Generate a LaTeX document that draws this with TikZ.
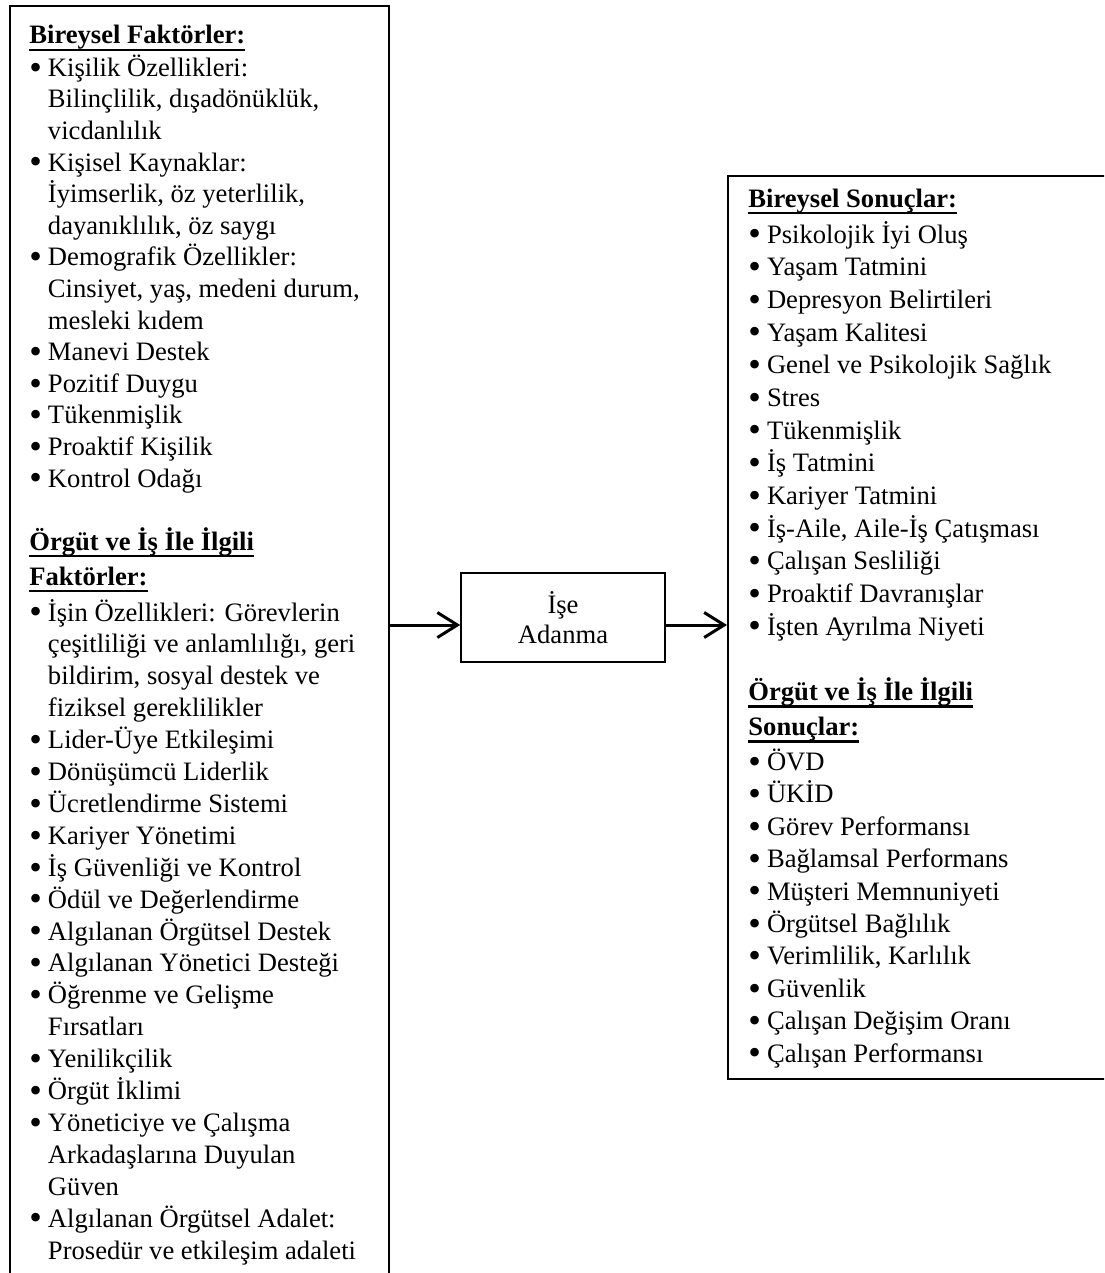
\documentclass[tikz,border=0pt]{standalone}
\usepackage{fontspec}
\setmainfont{Liberation Serif}
\usetikzlibrary{arrows.meta,positioning}

\newcommand\bul{\makebox[9.3pt][l]{\smash{\raisebox{-1.4pt}{\scalebox{1.35}{\textbullet}}}}}
\newcommand\contind{\hspace*{9.3pt}}
\newcommand\headul[1]{\setbox0=\hbox{\bfseries #1}\rlap{\rule[-3.6pt]{\wd0}{1.2pt}}\box0}

\begin{document}
\begin{tikzpicture}[
    x=0.5pt,y=-0.5pt,
    frame/.style={draw, line width=0.8pt, anchor=north west, inner sep=0pt},
    block/.style={draw, line width=0.8pt, align=center, inner sep=0pt,
                  minimum width=102pt, minimum height=44.5pt,
                  font=\fontsize{13.3}{15}\selectfont},
    listtext/.style={anchor=base west, inner sep=0pt, align=left,
                     font=\fontsize{13.3}{#1}\selectfont},
    arrow/.style={-{Straight Barb[length=10pt,width=12.5pt]}, line width=1.5pt}
]
\clip (0,0) rectangle (1104,1273);

\node[frame, minimum width=189.5pt, minimum height=660pt] (leftbox) at (9,5) {};
\node[frame, minimum width=200pt, minimum height=451.5pt] (rightbox) at (727,175) {};
\node[block] (center) at (563,617.5) {İşe\\Adanma};

% base anchor sits on the last line of each list
\node[listtext=15.8pt] (leftA) at (29,487) {\headul{Bireysel Faktörler:}\\[0.4pt]
\bul Kişilik Özellikleri:\\
\contind Bilinçlilik, dışadönüklük,\\
\contind vicdanlılık\\
\bul Kişisel Kaynaklar:\\
\contind İyimserlik, öz yeterlilik,\\
\contind dayanıklılık, öz saygı\\
\bul Demografik Özellikler:\\
\contind Cinsiyet, yaş, medeni durum,\\
\contind mesleki kıdem\\
\bul Manevi Destek\\
\bul Pozitif Duygu\\
\bul Tükenmişlik\\
\bul Proaktif Kişilik\\
\bul Kontrol Odağı};

\node[listtext=15.95pt] (leftB) at (29,1259) {\headul{Örgüt ve İş İle İlgili}\\[1.55pt]
\headul{Faktörler:}\\[2.05pt]
\bul İşin Özellikleri: Görevlerin\\
\contind çeşitliliği ve anlamlılığı, geri\\
\contind bildirim, sosyal destek ve\\
\contind fiziksel gereklilikler\\
\bul Lider-Üye Etkileşimi\\
\bul Dönüşümcü Liderlik\\
\bul Ücretlendirme Sistemi\\
\bul Kariyer Yönetimi\\
\bul İş Güvenliği ve Kontrol\\
\bul Ödül ve Değerlendirme\\
\bul Algılanan Örgütsel Destek\\
\bul Algılanan Yönetici Desteği\\
\bul Öğrenme ve Gelişme\\
\contind Fırsatları\\
\bul Yenilikçilik\\
\bul Örgüt İklimi\\
\bul Yöneticiye ve Çalışma\\
\contind Arkadaşlarına Duyulan\\
\contind Güven\\
\bul Algılanan Örgütsel Adalet:\\
\contind Prosedür ve etkileşim adaleti};

\node[listtext=16.33pt] (rightA) at (748,635) {\headul{Bireysel Sonuçlar:}\\[1.67pt]
\bul Psikolojik İyi Oluş\\
\bul Yaşam Tatmini\\
\bul Depresyon Belirtileri\\
\bul Yaşam Kalitesi\\
\bul Genel ve Psikolojik Sağlık\\
\bul Stres\\
\bul Tükenmişlik\\
\bul İş Tatmini\\
\bul Kariyer Tatmini\\
\bul İş-Aile, Aile-İş Çatışması\\
\bul Çalışan Sesliliği\\
\bul Proaktif Davranışlar\\
\bul İşten Ayrılma Niyeti};

\node[listtext=16.2pt] (rightB) at (748,1062) {\headul{Örgüt ve İş İle İlgili}\\[1.3pt]
\headul{Sonuçlar:}\\[1.3pt]
\bul ÖVD\\
\bul ÜKİD\\
\bul Görev Performansı\\
\bul Bağlamsal Performans\\
\bul Müşteri Memnuniyeti\\
\bul Örgütsel Bağlılık\\
\bul Verimlilik, Karlılık\\
\bul Güvenlik\\
\bul Çalışan Değişim Oranı\\
\bul Çalışan Performansı};

\draw[arrow] (leftbox.east |- 0,625) -- (center.west |- 0,625);
\draw[arrow] (center.east |- 0,625) -- (rightbox.west |- 0,625);
\end{tikzpicture}
\end{document}
